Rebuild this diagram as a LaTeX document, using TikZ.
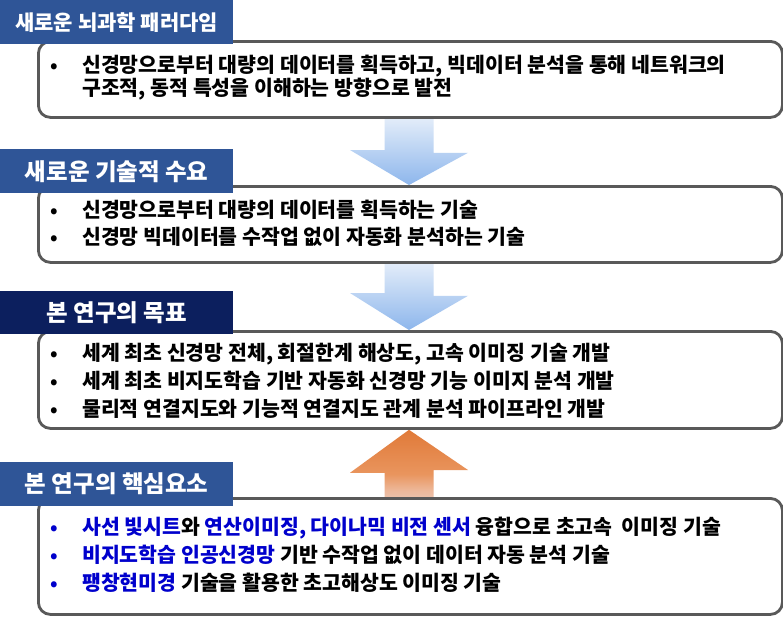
\documentclass[tikz,border=0pt]{standalone}
\usepackage{fontspec}
\newfontfamily\kr{Noto Sans CJK KR}
\usetikzlibrary{backgrounds}
\definecolor{titleblue}{HTML}{2F5597}
\definecolor{titlenavy}{HTML}{0C1F5E}
\definecolor{boxgray}{HTML}{595959}
\definecolor{keyblue}{HTML}{0000CC}
\definecolor{arrpale}{HTML}{E2ECF9}
\definecolor{arrblue}{HTML}{8DB6EC}
\definecolor{arrorange}{HTML}{DA651C}
\definecolor{arrorangemid}{HTML}{E9955E}
\definecolor{arrorangelight}{HTML}{EDB89A}
\definecolor{arrorangepale}{HTML}{E3E8F4}
\pgfdeclareverticalshading{orangefade}{100bp}{color(0bp)=(arrorangepale); color(30bp)=(arrorangelight); color(42bp)=(arrorangemid); color(100bp)=(arrorange)}
\pgfdeclarelayer{bottom}
\pgfsetlayers{bottom,background,main}
\begin{document}
\begin{tikzpicture}[x=1pt,y=-1pt,
  panel/.style={draw=boxgray, line width=2.8pt, rounded corners=12pt, fill=white,
    anchor=north west, minimum width=744pt, inner sep=0pt},
  titlebox/.style={fill=#1, text=white, anchor=north west, minimum width=233pt,
    minimum height=44pt, inner sep=0pt, font=\kr\bfseries\fontsize{23.5}{26}\selectfont},
  txt/.style={anchor=base west, inner sep=0pt, font=\kr\bfseries\fontsize{20.5}{24}\selectfont},
  bul/.style={anchor=base west, inner sep=0pt, font=\kr\bfseries\fontsize{19}{23}\selectfont},
  bluearr/.style={top color=arrpale, bottom color=arrblue},
  orangearr/.style={shading=orangefade}
]
\useasboundingbox (0,0) rectangle (783,616);
\begin{pgfonlayer}{bottom}
\fill[white] (0,0) rectangle (783,616);
\end{pgfonlayer}
\coordinate (ax) at (409,0);

% panels
\node[panel, minimum height=76pt] (p1) at (37,40) {};
\node[panel, minimum height=76pt] (p2) at (37,185) {};
\node[panel, minimum height=97pt] (p3) at (37,330) {};
\node[panel, minimum height=116pt] (p4) at (37,497) {};

% block arrows between panels (behind the panels)
\begin{scope}[on background layer]
\shade[bluearr] (p1.south -| ax) ++(-24.5,0) -- ++(49,0) -- ++(0,34) -- ++(34.5,0)
  -- (p2.north -| ax) -- ++(-59,-35) -- ++(34.5,0) -- cycle;
\shade[bluearr] (p2.south -| ax) ++(-24.5,0) -- ++(49,0) -- ++(0,32) -- ++(34.5,0)
  -- (p3.north -| ax) -- ++(-59,-37) -- ++(34.5,0) -- cycle;
\shade[orangearr] (p4.north -| ax) ++(-24.5,0) -- ++(49,0) -- ++(0,-27) -- ++(34.5,0)
  -- (p3.south -| ax) -- ++(-59,43) -- ++(34.5,0) -- cycle;
\end{scope}

% titles
\node[titlebox=titleblue, font=\kr\bfseries\fontsize{21}{24}\selectfont] (h1) at (0,0) {새로운 뇌과학 패러다임};
\node[titlebox=titleblue] (h2) at (0,149) {새로운 기술적 수요};
\node[titlebox=titlenavy, minimum height=43pt] (h3) at (0,291) {본 연구의 목표};
\node[titlebox=titleblue] (h4) at (0,462) {본 연구의 핵심요소};

% panel 1
\node[bul] (b1a) at (50,72) {•};
\node[txt] (t1a) at (82,72) {신경망으로부터 대량의 데이터를 획득하고, 빅데이터 분석을 통해 네트워크의};
\node[txt] (t1b) at (82,95) {구조적, 동적 특성을 이해하는 방향으로 발전};

% panel 2
\node[bul] (b2a) at (50,217) {•};
\node[txt] (t2a) at (82,217) {신경망으로부터 대량의 데이터를 획득하는 기술};
\node[bul] (b2b) at (50,244) {•};
\node[txt] (t2b) at (82,244) {신경망 빅데이터를 수작업 없이 자동화 분석하는 기술};

% panel 3
\node[bul] (b3a) at (50,360) {•};
\node[txt] (t3a) at (82,360) {세계 최초 신경망 전체, 회절한계 해상도, 고속 이미징 기술 개발};
\node[bul] (b3b) at (50,388) {•};
\node[txt] (t3b) at (82,388) {세계 최초 비지도학습 기반 자동화 신경망 기능 이미지 분석 개발};
\node[bul] (b3c) at (50,416) {•};
\node[txt] (t3c) at (82,416) {물리적 연결지도와 기능적 연결지도 관계 분석 파이프라인 개발};

% panel 4
\node[bul, text=keyblue] (b4a) at (50,534) {•};
\node[txt] (t4a) at (82,534) {\textcolor{keyblue}{사선 빛시트}와 \textcolor{keyblue}{연산이미징, 다이나믹 비전 센서} 융합으로 초고속\ \ 이미징 기술};
\node[bul, text=keyblue] (b4b) at (50,562) {•};
\node[txt] (t4b) at (82,562) {\textcolor{keyblue}{비지도학습 인공신경망} 기반 수작업 없이 데이터 자동 분석 기술};
\node[bul, text=keyblue] (b4c) at (50,590) {•};
\node[txt] (t4c) at (82,590) {\textcolor{keyblue}{팽창현미경} 기술을 활용한 초고해상도 이미징 기술};
\end{tikzpicture}
\end{document}
